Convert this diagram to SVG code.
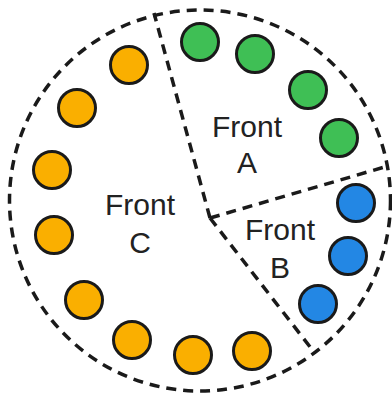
<svg xmlns="http://www.w3.org/2000/svg" width="392" height="398" viewBox="0 0 392 398">
<style>
.dash{fill:none;stroke:#1a1a1a;stroke-width:3.5;stroke-dasharray:10 7;}
.n{stroke:#1a1a1a;stroke-width:3;}
.o{fill:#FAAF00;}
.g{fill:#3FBF55;}
.b{fill:#2387E4;}
.t{font-family:"Liberation Sans",Arial,sans-serif;font-size:30px;fill:#222;text-anchor:middle;}
</style>
<rect width="392" height="398" fill="#fff"/>
<g id="connectors">
<circle class="dash" cx="200" cy="200.5" r="190.5"/>
<line class="dash" x1="210" y1="218" x2="154" y2="13"/>
<line class="dash" x1="210" y1="218" x2="388" y2="166"/>
<line class="dash" x1="210" y1="218" x2="314" y2="352"/>
</g>
<g id="front-a-label"><text class="t" x="247" y="137">Front</text><text class="t" x="247" y="173">A</text></g>
<g id="front-b-label"><text class="t" x="280" y="240">Front</text><text class="t" x="280" y="278">B</text></g>
<g id="front-c-label"><text class="t" x="140" y="215">Front</text><text class="t" x="140" y="253">C</text></g>
<g id="a1"><circle class="n g" cx="200" cy="42" r="18.5"/></g>
<g id="a2"><circle class="n g" cx="255" cy="54" r="18.5"/></g>
<g id="a3"><circle class="n g" cx="308" cy="90" r="18.5"/></g>
<g id="a4"><circle class="n g" cx="339" cy="138" r="18.5"/></g>
<g id="b1"><circle class="n b" cx="356" cy="203" r="18.5"/></g>
<g id="b2"><circle class="n b" cx="348" cy="256" r="18.5"/></g>
<g id="b3"><circle class="n b" cx="318" cy="304" r="18.5"/></g>
<g id="c1"><circle class="n o" cx="129" cy="65" r="18.5"/></g>
<g id="c2"><circle class="n o" cx="77" cy="108" r="18.5"/></g>
<g id="c3"><circle class="n o" cx="52" cy="170" r="18.5"/></g>
<g id="c4"><circle class="n o" cx="54" cy="235" r="18.5"/></g>
<g id="c5"><circle class="n o" cx="84" cy="300" r="18.5"/></g>
<g id="c6"><circle class="n o" cx="132" cy="340" r="18.5"/></g>
<g id="c7"><circle class="n o" cx="193" cy="355" r="18.5"/></g>
<g id="c8"><circle class="n o" cx="252" cy="351" r="18.5"/></g>
</svg>
